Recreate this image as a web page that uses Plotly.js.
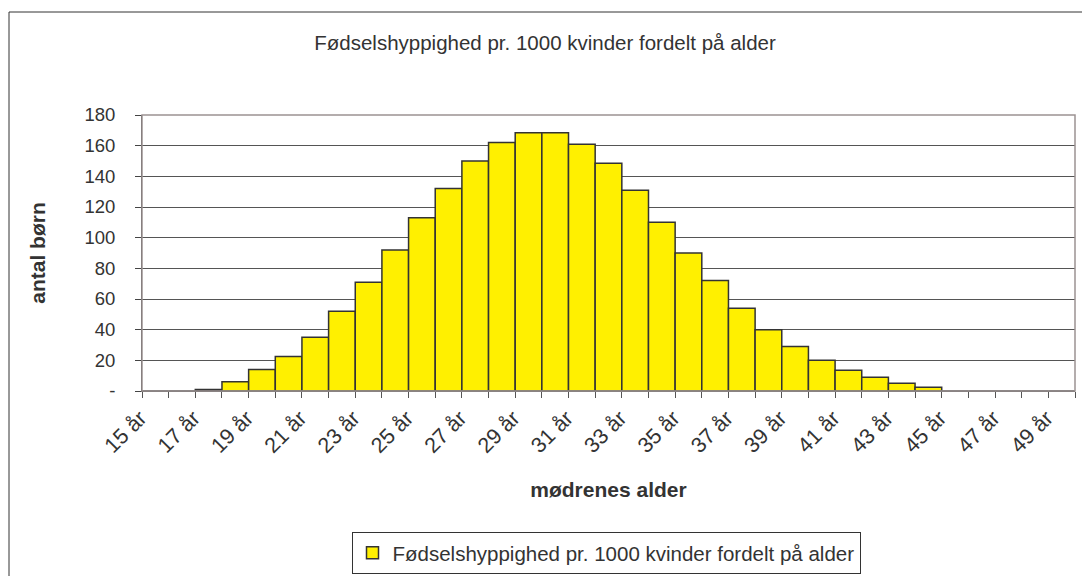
<!DOCTYPE html>
<html>
<head>
<meta charset="utf-8">
<script src="https://cdn.plot.ly/plotly-3.0.1.min.js"></script>
<style>html,body{margin:0;padding:0;background:#fff;}#chart{width:1082px;height:576px;}</style>
</head>
<body>
<div id="chart"></div>
<script>
// Data
const ages = [15,16,17,18,19,20,21,22,23,24,25,26,27,28,29,30,31,32,33,34,35,36,37,38,39,40,41,42,43,44,45,46,47,48,49];
const categories = ages.map(a => a + " år");
const births = [0,0,1,6,14,22.5,35,52,71,92,113,132,150,162,168.5,168.5,161,148.5,131,110,90,72,54,40,29,20,13.5,9,5,2.5,0,0,0,0,0];
const xTickLabels = ["15 år","","17 år","","19 år","","21 år","","23 år","","25 år","","27 år","","29 år","","31 år","","33 år","","35 år","","37 år","","39 år","","41 år","","43 år","","45 år","","47 år","","49 år"];
const yTickVals = [0,20,40,60,80,100,120,140,160,180];
const yTickText = ["-","20","40","60","80","100","120","140","160","180"];
const seriesName = "Fødselshyppighed pr. 1000 kvinder fordelt på alder";
const chartTitle = "Fødselshyppighed pr. 1000 kvinder fordelt på alder";
const xTitle = "mødrenes alder";
const yTitle = "antal børn";

const FONT = "Liberation Sans, Arial, sans-serif";
const L = 142, R = 7, T = 115, B = 185;
const W = 1082 - L - R, H = 576 - T - B;
const px = x => (x - L) / W;
const py = y => (576 - B - y) / H;

const trace = {
  type: "bar",
  x: categories,
  y: births,
  name: seriesName,
  marker: {color: "#FFF000", line: {color: "#333333", width: 1.5}},
  showlegend: true,
  hoverinfo: "x+y"
};

const layout = {
  width: 1082, height: 576,
  margin: {l: L, r: R, t: T, b: B},
  paper_bgcolor: "#ffffff",
  plot_bgcolor: "#ffffff",
  font: {family: FONT, color: "#333333", size: 18},
  bargap: 0,
  title: {text: chartTitle, font: {family: FONT, size: 20.5, color: "#333333"}, x: px(545), xanchor: "center", xref: "paper", y: 1 - 43/576, yanchor: "middle"},
  xaxis: {
    type: "category",
    automargin: false,
    tickmode: "array",
    tickvals: categories,
    ticktext: xTickLabels,
    tickson: "boundaries",
    ticks: "outside",
    ticklen: 6,
    tickcolor: "#555555",
    tickangle: -45,
    tickfont: {family: FONT, size: 21.5, color: "#333333"},
    ticklabelstandoff: 5,
    ticklabelshift: -15,
    showline: true,
    linecolor: "#555555",
    linewidth: 1,
    showgrid: false,
    zeroline: false,
    title: {text: "<b>" + xTitle + "</b>", font: {family: FONT, size: 21, color: "#333333"}, standoff: 25}
  },
  yaxis: {
    range: [0, 180],
    automargin: false,
    tickmode: "array",
    tickvals: yTickVals,
    ticktext: yTickText,
    ticks: "outside",
    ticklen: 6,
    tickcolor: "#444444",
    tickfont: {family: FONT, size: 18.5, color: "#333333"},
    ticklabelstandoff: 16,
    showline: true,
    linecolor: "#444444",
    linewidth: 1,
    showgrid: true,
    gridcolor: "#555555",
    gridwidth: 1,
    zeroline: false,
    title: {text: "<b>" + yTitle + "</b>", font: {family: FONT, size: 21, color: "#333333"}, standoff: 33}
  },
  legend: {
    orientation: "h",
    xref: "container", yref: "container",
    x: 606/1082, xanchor: "center",
    y: 1 - 532/576, yanchor: "top",
    bordercolor: "#333333", borderwidth: 1,
    font: {family: FONT, size: 20.5, color: "#333333"},
    bgcolor: "#ffffff"
  },
  shapes: [
    {type: "rect", xref: "paper", yref: "paper", x0: 0, x1: 1, y0: 0, y1: 1,
     line: {color: "#9c9292", width: 1.5}, layer: "above"},
    {type: "rect", xref: "paper", yref: "paper", x0: px(9), x1: px(1090), y0: py(12), y1: py(590),
     line: {color: "#333333", width: 1}, layer: "below"}
  ]
};

Plotly.newPlot("chart", [trace], layout, {displayModeBar: false, staticPlot: true});
</script>
</body>
</html>
